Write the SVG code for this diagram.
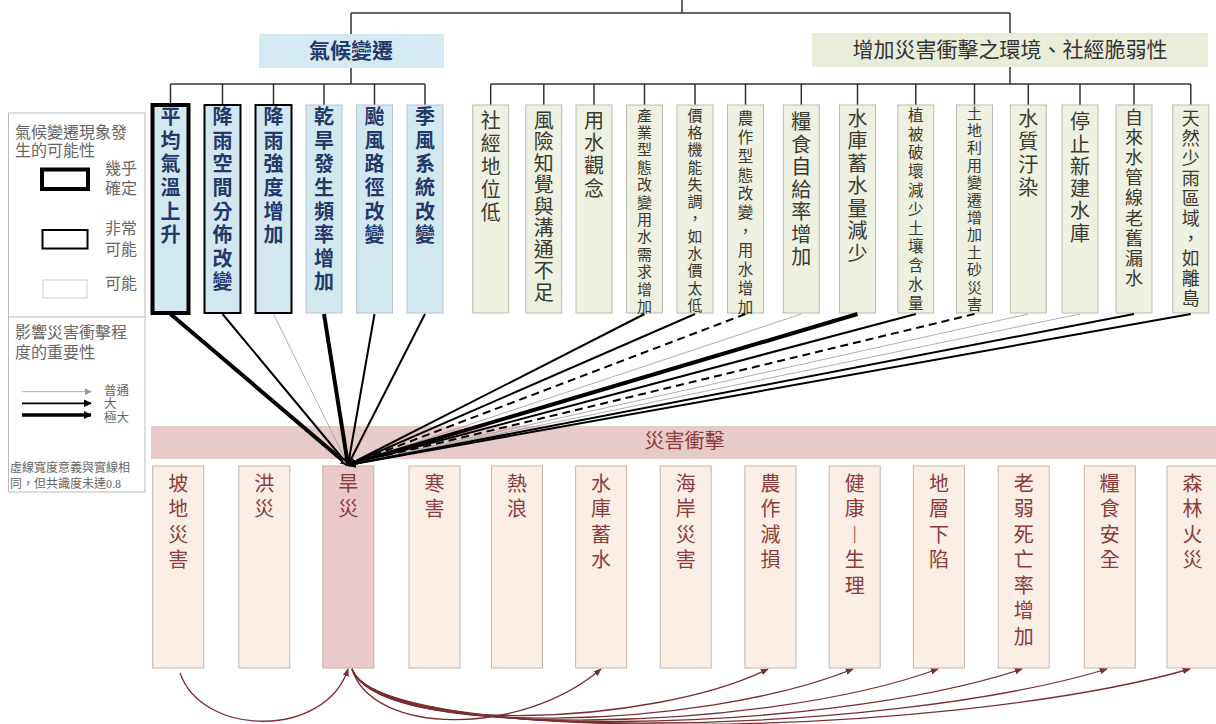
<svg xmlns="http://www.w3.org/2000/svg" width="1216" height="724" viewBox="0 0 1216 724">
<style>
text{font-family:"Noto Sans CJK TC","Noto Sans CJK SC",sans-serif;text-anchor:middle}
.v{writing-mode:vertical-rl;text-anchor:start}
.tree{stroke:#333;stroke-width:1.5;fill:none}
.cb{fill:#d3e7f0}
.sb{fill:#eef0e2;stroke:#b8bcae;stroke-width:1}
.ib{fill:#fbeee5;stroke:#c4b5ad;stroke-width:1}
.ct{font-size:20px;font-weight:bold;fill:#1f3a6b;letter-spacing:3.6px}
.st{fill:#3a3a2e}
.it{font-size:20px;fill:#8b3b3b;letter-spacing:5.5px}
.lg{fill:#666;text-anchor:start;font-family:"Liberation Serif","Noto Sans CJK TC",serif}
.thin{stroke:#999;stroke-width:0.8}
.mid{stroke:#000;stroke-width:2}
.thk{stroke:#000;stroke-width:4}
.dsh{stroke:#000;stroke-width:2;stroke-dasharray:8 5}
.cur{fill:none;stroke:#7a2e2e;stroke-width:1.3;marker-end:url(#ar)}
</style>
<defs>
<marker id="ah" viewBox="0 0 10 10" refX="9" refY="5" markerWidth="8" markerHeight="8" markerUnits="userSpaceOnUse" orient="auto"><path d="M0,0L10,5L0,10z" fill="#000"/></marker>
<marker id="ahg" viewBox="0 0 10 10" refX="9" refY="5" markerWidth="7" markerHeight="7" markerUnits="userSpaceOnUse" orient="auto"><path d="M0,0L10,5L0,10z" fill="#999"/></marker>
<marker id="ar" viewBox="0 0 10 10" refX="9" refY="5" markerWidth="8" markerHeight="8" markerUnits="userSpaceOnUse" orient="auto"><path d="M0,1L10,5L0,9z" fill="#7a2e2e"/></marker>
</defs>

<!-- tree lines -->
<g id="tree" class="tree">
<path d="M682,0V13M351,13H1010M351,13V34M1010,13V33"/>
<path d="M351,68V84M170.5,84H425M170.5,84V105M222.5,84V105M273.5,84V105M324,84V105M374.5,84V105M425,84V105"/>
<path d="M1010,67V84M490.7,84H1190.8M490.7,84V105M543.8,84V105M594,84V105M644.5,84V105M695,84V105M745.5,84V105M801.3,84V105M857.5,84V105M915.8,84V105M974.5,84V105M1028.3,84V105M1080,84V105M1134,84V105M1190.8,84V105"/>
</g>

<!-- headers -->
<g id="h-climate"><rect x="259" y="34" width="185" height="34" fill="#d5e9f2"/><text x="351" y="58" font-size="21" font-weight="bold" fill="#1f3a6b">氣候變遷</text></g>
<g id="h-vuln"><rect x="812" y="33" width="396" height="34" fill="#e8ecd9"/><text x="1010" y="57" font-size="21" fill="#333">增加災害衝擊之環境、社經脆弱性</text></g>

<!-- legend -->
<g id="legend">
<rect x="8.5" y="113" width="136.5" height="379" fill="#fff" stroke="#bbb" stroke-width="1"/>
<line x1="8.5" y1="317" x2="145" y2="317" stroke="#bbb" stroke-width="1"/>
<text class="lg" x="15" y="137.5" font-size="16">氣候變遷現象發<tspan x="15" dy="18">生的可能性</tspan></text>
<rect x="42" y="169.5" width="46" height="19.5" fill="#fff" stroke="#000" stroke-width="4"/>
<text class="lg" x="137" y="174" font-size="16" style="text-anchor:end">幾乎<tspan x="137" dy="20">確定</tspan></text>
<rect x="42.5" y="230" width="45" height="18.5" fill="#fff" stroke="#000" stroke-width="2"/>
<text class="lg" x="137" y="234" font-size="16" style="text-anchor:end">非常<tspan x="137" dy="21">可能</tspan></text>
<rect x="43" y="280" width="44" height="18" fill="#fff" stroke="#ccc" stroke-width="1"/>
<text class="lg" x="137" y="289" font-size="16" style="text-anchor:end">可能</text>
<text class="lg" x="15" y="337.5" font-size="16">影響災害衝擊程<tspan x="15" dy="20">度的重要性</tspan></text>
<line x1="22" y1="391.7" x2="91" y2="391.7" class="thin" marker-end="url(#ahg)"/>
<line x1="22" y1="403.3" x2="91" y2="403.3" stroke="#000" stroke-width="1.8" marker-end="url(#ah)"/>
<line x1="22" y1="415" x2="91" y2="415" stroke="#000" stroke-width="3.5" marker-end="url(#ah)"/>
<text class="lg" x="104" y="394.5" font-size="12.5">普通<tspan x="104" dy="13.5">大</tspan><tspan x="104" dy="13.5">極大</tspan></text>
<text class="lg" x="10" y="472" font-size="12">虛線寬度意義與實線相<tspan x="10" dy="15.5">同，但共識度未達0.8</tspan></text>
</g>

<!-- climate nodes -->
<g id="c-temp"><rect class="cb" x="152.5" y="105" width="36" height="208" stroke="#000" stroke-width="4"/><text class="v ct" x="170.5" y="106.7">平均氣溫上升</text></g>
<g id="c-rainspace"><rect class="cb" x="204.5" y="105" width="36" height="208" stroke="#000" stroke-width="2"/><text class="v ct" x="222.5" y="106.7">降雨空間分佈改變</text></g>
<g id="c-rainint"><rect class="cb" x="255.5" y="105" width="36" height="208" stroke="#000" stroke-width="2"/><text class="v ct" x="273.5" y="106.7">降雨強度增加</text></g>
<g id="c-drought"><rect class="cb" x="306" y="105" width="36" height="208" stroke="#b5c5cd" stroke-width="1"/><text class="v ct" x="324" y="106.7">乾旱發生頻率增加</text></g>
<g id="c-typhoon"><rect class="cb" x="356.5" y="105" width="36" height="208" stroke="#b5c5cd" stroke-width="1"/><text class="v ct" x="374.5" y="106.7">颱風路徑改變</text></g>
<g id="c-monsoon"><rect class="cb" x="407" y="105" width="36" height="208" stroke="#b5c5cd" stroke-width="1"/><text class="v ct" x="425" y="106.7">季風系統改變</text></g>

<!-- vulnerability nodes -->
<g id="s1"><rect class="sb" x="472.7" y="105" width="36" height="208"/><text class="v st" font-size="20" letter-spacing="3" x="490.7" y="110">社經地位低</text></g>
<g id="s2"><rect class="sb" x="525.8" y="105" width="36" height="208"/><text class="v st" font-size="20" letter-spacing="1.5" x="543.8" y="110">風險知覺與溝通不足</text></g>
<g id="s3"><rect class="sb" x="576" y="105" width="36" height="208"/><text class="v st" font-size="20" letter-spacing="2.7" x="594" y="110">用水觀念</text></g>
<g id="s4"><rect class="sb" x="626.5" y="105" width="36" height="208"/><text class="v st" font-size="15" letter-spacing="2.4" x="644.5" y="107.5">產業型態改變用水需求增加</text></g>
<g id="s5"><rect class="sb" x="677" y="105" width="36" height="208"/><text class="v st" font-size="15" letter-spacing="2.3" x="695" y="107.5">價格機能失調，如水價太低</text></g>
<g id="s6"><rect class="sb" x="727.5" y="105" width="36" height="208"/><text class="v st" font-size="15.5" letter-spacing="3.4" x="745.5" y="110.2">農作型態改變，用水增加</text></g>
<g id="s7"><rect class="sb" x="783.3" y="105" width="36" height="208"/><text class="v st" font-size="20" letter-spacing="2.5" x="801.3" y="111.7">糧食自給率增加</text></g>
<g id="s8"><rect class="sb" x="839.5" y="105" width="36" height="208"/><text class="v st" font-size="20" letter-spacing="2.5" x="857.5" y="108">水庫蓄水量減少</text></g>
<g id="s9"><rect class="sb" x="897.8" y="105" width="36" height="208"/><text class="v st" font-size="15.5" letter-spacing="3.3" x="915.8" y="107.2">植被破壞減少土壤含水量</text></g>
<g id="s10"><rect class="sb" x="956.5" y="105" width="36" height="208"/><text class="v st" font-size="15" letter-spacing="2.4" x="974.5" y="105.5">土地利用變遷增加土砂災害</text></g>
<g id="s11"><rect class="sb" x="1010.3" y="105" width="36" height="208"/><text class="v st" font-size="20" letter-spacing="3.3" x="1028.3" y="108">水質汙染</text></g>
<g id="s12"><rect class="sb" x="1062" y="105" width="36" height="208"/><text class="v st" font-size="20" letter-spacing="2.3" x="1080" y="111.7">停止新建水庫</text></g>
<g id="s13"><rect class="sb" x="1116" y="105" width="36" height="208"/><text class="v st" font-size="18" letter-spacing="2.2" x="1134" y="107.7">自來水管線老舊漏水</text></g>
<g id="s14"><rect class="sb" x="1172.8" y="105" width="36" height="208"/><text class="v st" font-size="18" letter-spacing="2" x="1190.8" y="109">天然少雨區域，如離島</text></g>

<!-- impacts band -->
<g id="impact-band"><rect x="151" y="426" width="1065" height="33" fill="#e9caca"/><text x="684.6" y="447.6" font-size="20" fill="#8b3b3b">災害衝擊</text></g>

<!-- impact nodes -->
<g id="i1"><rect class="ib" x="152.7" y="466" width="51" height="202"/><text class="v it" x="178.2" y="473.3">坡地災害</text></g>
<g id="i2"><rect class="ib" x="238.8" y="466" width="51" height="202"/><text class="v it" x="264.3" y="473.3">洪災</text></g>
<g id="i3"><rect x="322.8" y="466" width="51" height="202" fill="#e9c9c9" stroke="#c4b0ad" stroke-width="1"/><text class="v it" x="348.3" y="473.3">旱災</text></g>
<g id="i4"><rect class="ib" x="409" y="466" width="51" height="202"/><text class="v it" x="434.5" y="473.3">寒害</text></g>
<g id="i5"><rect class="ib" x="491.5" y="466" width="51" height="202"/><text class="v it" x="517" y="473.3">熱浪</text></g>
<g id="i6"><rect class="ib" x="575.6" y="466" width="51" height="202"/><text class="v it" x="601.1" y="473.3">水庫蓄水</text></g>
<g id="i7"><rect class="ib" x="660.2" y="466" width="51" height="202"/><text class="v it" x="685.7" y="473.3">海岸災害</text></g>
<g id="i8"><rect class="ib" x="744.9" y="466" width="51" height="202"/><text class="v it" x="770.4" y="473.3">農作減損</text></g>
<g id="i9"><rect class="ib" x="829.2" y="466" width="51" height="202"/><text class="v it" x="854.7" y="473.3">健康︱生理</text></g>
<g id="i10"><rect class="ib" x="913.4" y="466" width="51" height="202"/><text class="v it" x="938.9" y="473.3">地層下陷</text></g>
<g id="i11"><rect class="ib" x="998.2" y="466" width="51" height="202"/><text class="v it" x="1023.7" y="473.3">老弱死亡率增加</text></g>
<g id="i12"><rect class="ib" x="1084.3" y="466" width="51" height="202"/><text class="v it" x="1109.8" y="473.3">糧食安全</text></g>
<g id="i13"><rect class="ib" x="1167" y="466" width="51" height="202"/><text class="v it" x="1192.5" y="473.3">森林火災</text></g>

<!-- connectors -->
<g id="connectors">
<line class="thk" x1="170.5" y1="314" x2="348" y2="465" marker-end="url(#ah)"/>
<line class="mid" x1="222.5" y1="314" x2="348" y2="465" marker-end="url(#ah)"/>
<line class="thin" x1="273.5" y1="314" x2="348" y2="465" marker-end="url(#ahg)"/>
<line class="thk" x1="324" y1="314" x2="348" y2="465" marker-end="url(#ah)"/>
<line class="mid" x1="374.5" y1="314" x2="348" y2="465" marker-end="url(#ah)"/>
<line class="mid" x1="425" y1="314" x2="348" y2="465" marker-end="url(#ah)"/>
<line class="mid" x1="644.5" y1="314" x2="348" y2="465" marker-end="url(#ah)"/>
<line class="mid" x1="695" y1="314" x2="348" y2="465" marker-end="url(#ah)"/>
<line class="dsh" x1="745.5" y1="314" x2="348" y2="465" marker-end="url(#ah)"/>
<line class="thin" x1="801.3" y1="314" x2="348" y2="465" marker-end="url(#ahg)"/>
<line class="thk" x1="857.5" y1="314" x2="348" y2="465" marker-end="url(#ah)"/>
<line class="mid" x1="915.8" y1="314" x2="348" y2="465" marker-end="url(#ah)"/>
<line class="dsh" x1="974.5" y1="314" x2="348" y2="465" marker-end="url(#ah)"/>
<line class="thin" x1="1028.3" y1="314" x2="348" y2="465" marker-end="url(#ahg)"/>
<line class="thin" x1="1080" y1="314" x2="348" y2="465" marker-end="url(#ahg)"/>
<line class="mid" x1="1134" y1="314" x2="348" y2="465" marker-end="url(#ah)"/>
<line class="mid" x1="1190.8" y1="314" x2="348" y2="465" marker-end="url(#ah)"/>
</g>

<!-- cascade arrows -->
<g id="cascade">
<path class="cur" d="M180,673C203,738 326,738 348,669"/>
<path class="cur" d="M352,669C372,735 520,738 601,669"/>
<path class="cur" d="M352,669C378,735 650,727 768,669"/>
<path class="cur" d="M352,669C378,738 700,731 853,669"/>
<path class="cur" d="M352,669C378,740 760,734 938,669"/>
<path class="cur" d="M352,669C378,742 820,736 1022,669"/>
<path class="cur" d="M352,669C378,744 880,738 1107,669"/>
<path class="cur" d="M352,669C378,746 940,740 1190,669"/>
</g>
</svg>
